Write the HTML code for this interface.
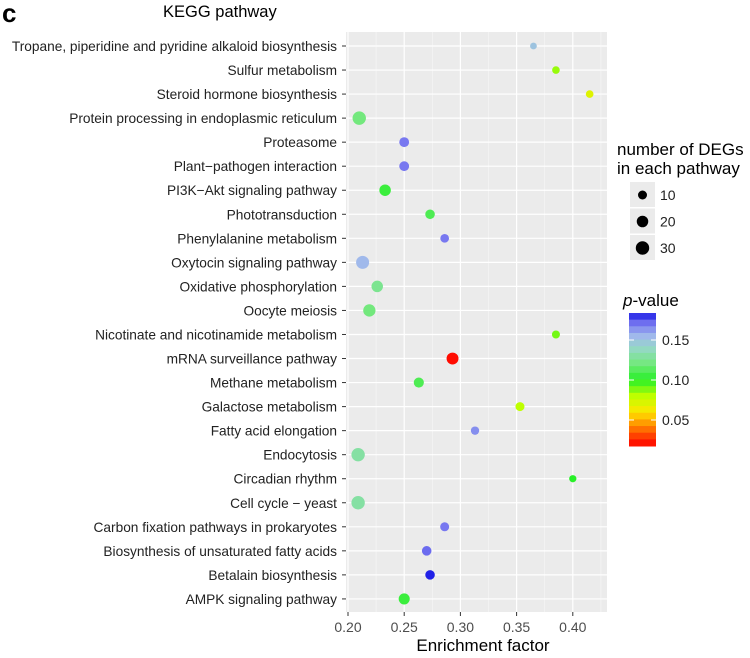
<!DOCTYPE html>
<html><head><meta charset="utf-8"><style>
html,body{margin:0;padding:0;background:#fff;}
svg{display:block;font-family:"Liberation Sans",Arial,sans-serif;}
</style></head><body>
<svg id="chart" width="750" height="658" viewBox="0 0 750 658">
<text x="2" y="22" font-size="26" font-weight="bold" fill="#000">c</text>
<text x="163" y="17" font-size="16.5" fill="#000">KEGG pathway</text>
<rect x="346" y="32" width="261" height="580" fill="#ebebeb"/>
<g id="grid"></g><g id="ylab"></g><g id="xlab"></g><g id="pts"></g>
<text x="483" y="651" font-size="17" text-anchor="middle">Enrichment factor</text>
<text x="617" y="155" font-size="17">number of DEGs</text>
<text x="617" y="174" font-size="17">in each pathway</text>
<g id="sizeleg"></g>
<text x="623" y="306" font-size="17"><tspan font-style="italic">p</tspan>-value</text>
<g id="cbar"></g>
</svg>
<script>
const categories=["Tropane, piperidine and pyridine alkaloid biosynthesis","Sulfur metabolism","Steroid hormone biosynthesis","Protein processing in endoplasmic reticulum","Proteasome","Plant\u2212pathogen interaction","PI3K\u2212Akt signaling pathway","Phototransduction","Phenylalanine metabolism","Oxytocin signaling pathway","Oxidative phosphorylation","Oocyte meiosis","Nicotinate and nicotinamide metabolism","mRNA surveillance pathway","Methane metabolism","Galactose metabolism","Fatty acid elongation","Endocytosis","Circadian rhythm","Cell cycle \u2212 yeast","Carbon fixation pathways in prokaryotes","Biosynthesis of unsaturated fatty acids","Betalain biosynthesis","AMPK signaling pathway"];
const enrichment=[0.365,0.385,0.415,0.21,0.25,0.25,0.233,0.273,0.286,0.213,0.226,0.219,0.385,0.293,0.263,0.353,0.313,0.209,0.40,0.209,0.286,0.27,0.273,0.25];
const counts=[4,6,6,30,13,13,20,12,9,28,20,24,7,22,14,10,8,30,5,30,10,12,12,18];
const pvalues=[0.15,0.085,0.07,0.12,0.17,0.17,0.105,0.11,0.17,0.155,0.125,0.12,0.09,0.02,0.11,0.08,0.165,0.13,0.10,0.13,0.17,0.172,0.183,0.105];
const xTicks=[0.20,0.25,0.30,0.35,0.40];
const sizeLegend=[10,20,30];
const pTicks=[0.05,0.10,0.15];
const NS="http://www.w3.org/2000/svg";
function mk(t,a,p){const e=document.createElementNS(NS,t);for(const k in a)e.setAttribute(k,a[k]);(p||document.getElementById('chart')).appendChild(e);return e;}
const xs=v=>348+(v-0.2)*1124;
const ys=i=>46+i*24.04;
const rs=n=>1.5+Math.sqrt(n)*0.95;
const stops=[[0.018,[255,0,0]],[0.04,[255,120,0]],[0.06,[255,230,0]],[0.08,[190,255,0]],[0.10,[40,240,40]],[0.12,[115,232,125]],[0.14,[150,215,200]],[0.155,[160,185,235]],[0.17,[120,120,240]],[0.185,[20,20,230]]];
function col(p){if(p<=stops[0][0])return 'rgb('+stops[0][1]+')';for(let i=1;i<stops.length;i++){if(p<=stops[i][0]){const a=stops[i-1],b=stops[i],t=(p-a[0])/(b[0]-a[0]);return 'rgb('+a[1].map((c,j)=>Math.round(c+(b[1][j]-c)*t)).join(',')+')';}}return 'rgb('+stops[stops.length-1][1]+')';}
const gridG=document.getElementById('grid'),ylabG=document.getElementById('ylab'),xlabG=document.getElementById('xlab'),ptsG=document.getElementById('pts');
for(let k=0;k<xTicks.length;k++){const v=xTicks[k];
 let l=mk('line',{x1:xs(v),x2:xs(v),y1:32,y2:612,stroke:'#fff','stroke-width':1.2},gridG);
 
 
 let m=mk('line',{x1:xs(v+0.025),x2:xs(v+0.025),y1:32,y2:612,stroke:'#f7f7f7','stroke-width':0.6},gridG);
 
 
 let tk=mk('line',{x1:xs(v),x2:xs(v),y1:612,y2:616,stroke:'#333','stroke-width':1},xlabG);
 
 
 let t=mk('text',{x:xs(v),y:632,'font-size':14,'text-anchor':'middle',fill:'#4d4d4d'},xlabG);t.textContent=v.toFixed(2);
 
 }
categories.forEach((c,i)=>{const y=ys(i);
 let l=mk('line',{x1:346,x2:607,y1:y,y2:y,stroke:'#fff','stroke-width':1.2},gridG);
 
 
 let tk=mk('line',{x1:342,x2:346,y1:y,y2:y,stroke:'#333','stroke-width':1},ylabG);
 
 
 let t=mk('text',{x:337,y:y+5,'font-size':13.7,'text-anchor':'end',fill:'#222'},ylabG);t.textContent=c;
 
 
 let d=mk('circle',{cx:xs(enrichment[i]),cy:y,r:rs(counts[i]),fill:col(pvalues[i])},ptsG);
 
 });
const sl=document.getElementById('sizeleg');
sizeLegend.forEach((n,i)=>{const y=195+i*26.5;
 let b=mk('rect',{x:630,y:y-13,width:25,height:25,fill:'#ebebeb'},sl);
 
 
 let d=mk('circle',{cx:642.5,cy:y,r:rs(n),fill:'#000'},sl);
 
 
 let t=mk('text',{x:660,y:y+5,'font-size':14,fill:'#222'},sl);t.textContent=n;
 
 });
const cb=document.getElementById('cbar');
const py=p=>420-(p-0.05)*800;
const cbTop=313,cbBot=446,nb=20;
for(let i=0;i<nb;i++){const y0=cbTop+i*(cbBot-cbTop)/nb;const p=0.184-(i+0.5)*(0.184-0.0175)/nb;
 let r=mk('rect',{x:629,y:y0,width:27,height:(cbBot-cbTop)/nb+0.5,fill:col(p)},cb);
 
 }
pTicks.forEach(p=>{const y=py(p);
 let w=mk('line',{x1:629,x2:634,y1:y,y2:y,stroke:'#fff','stroke-width':1},cb);
 
 
 let w2=mk('line',{x1:651,x2:656,y1:y,y2:y,stroke:'#fff','stroke-width':1},cb);
 
 
 let t=mk('text',{x:662,y:y+5,'font-size':14,fill:'#222'},cb);t.textContent=p.toFixed(2);
 
 });
</script>
</body></html>
